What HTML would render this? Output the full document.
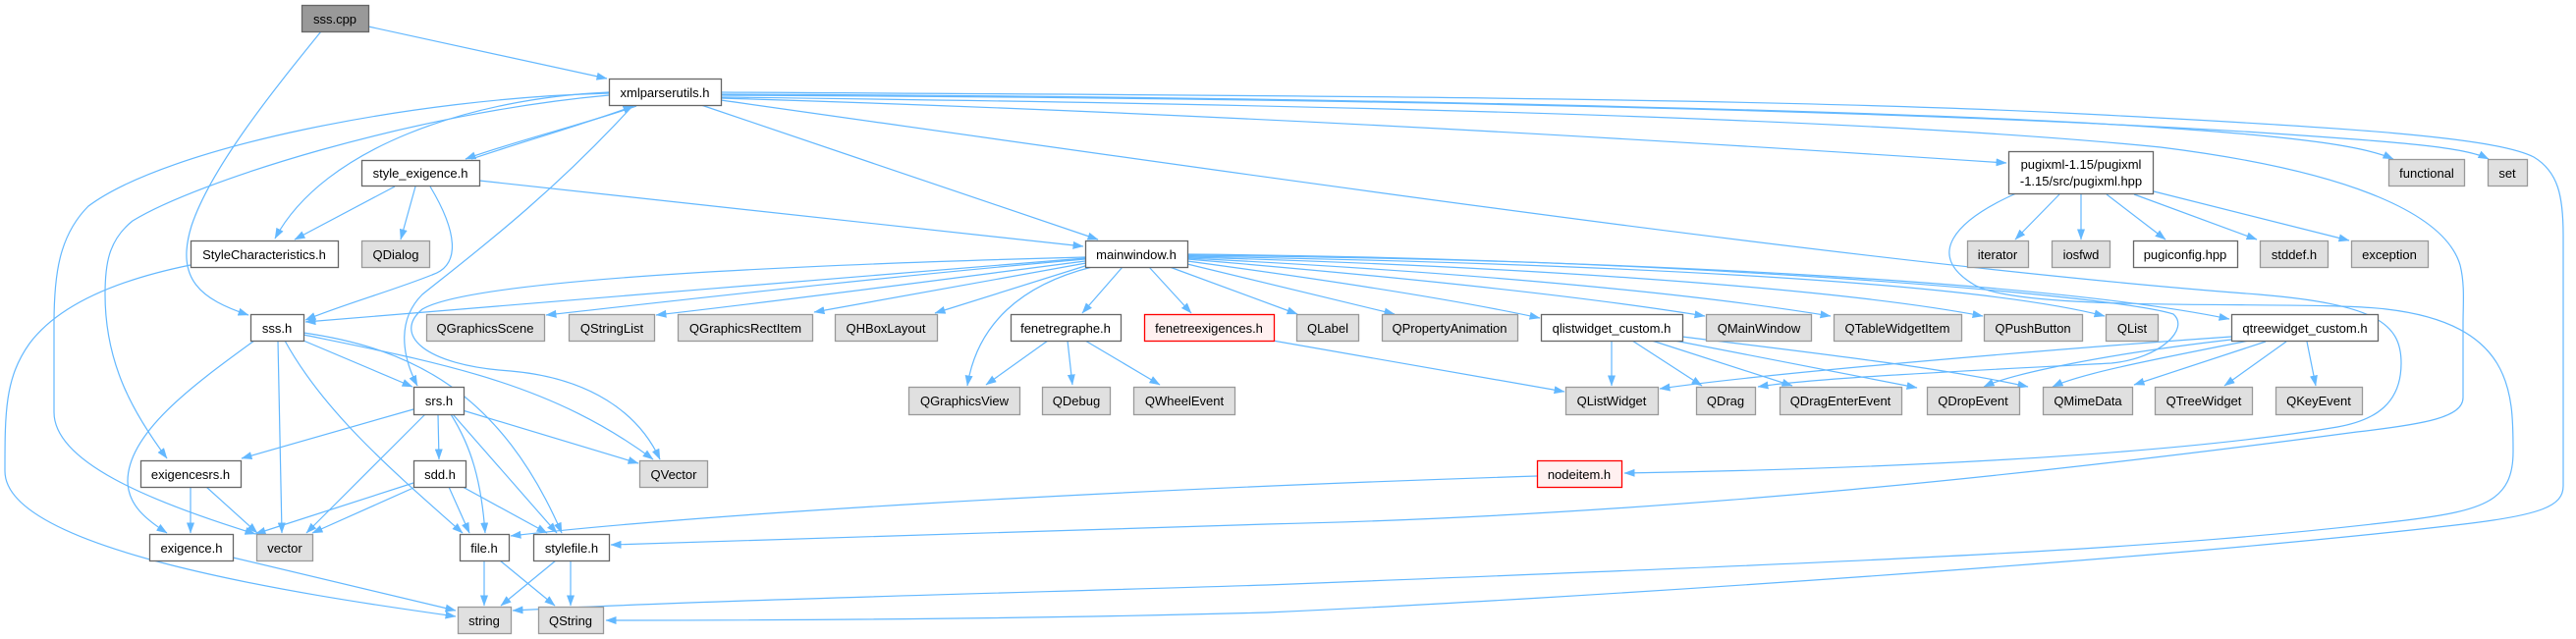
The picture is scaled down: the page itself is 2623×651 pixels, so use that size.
<!DOCTYPE html>
<html><head><meta charset="utf-8"><style>
html,body{margin:0;padding:0;background:#fff;}
svg{display:block;}
text{font-family:"Liberation Sans",Arial,sans-serif;font-size:13px;fill:#000;text-anchor:middle;}
.w{fill:#fff;stroke:#666;stroke-width:1.3;}
.g{fill:#e0e0e0;stroke:#999;stroke-width:1.3;}
.r{fill:#fff0f0;stroke:#f00;stroke-width:1.3;}
.root{fill:#999;stroke:#666;stroke-width:1.3;}
.e{fill:none;stroke:#63b8ff;stroke-width:1.2;marker-end:url(#a);}
</style></head><body>
<svg width="2623" height="651" viewBox="0 0 2623 651" xmlns="http://www.w3.org/2000/svg">
<defs><marker id="a" viewBox="0 0 11 8" markerWidth="11" markerHeight="8" refX="10.5" refY="4" orient="auto" markerUnits="userSpaceOnUse"><path d="M0,0L11,4L0,8z" fill="#63b8ff"/></marker></defs>
<g>
<path class="e" d="M375,27 L618,80"/>
<path class="e" d="M327,32 C280,90 215,170 195,230 C178,285 205,305 253,321"/>
<path class="e" d="M648,108 C600,125 520,145 474,162"/>
<path class="e" d="M480,162 C530,145 600,125 645,108"/>
<path class="e" d="M620,94 C480,100 330,150 280,243"/>
<path class="e" d="M620,95 C420,100 170,150 90,210 C60,240 55,280 55,330 L55,420 C55,470 150,510 260,544"/>
<path class="e" d="M620,97 C420,115 200,185 135,225 C110,245 107,270 107,300 C107,370 135,420 170,467"/>
<path class="e" d="M402,190 L300,244"/>
<path class="e" d="M423,190 L408,244"/>
<path class="e" d="M438,190 C465,235 470,270 440,280 C400,296 350,310 311,326"/>
<path class="e" d="M488,184 L1103,251"/>
<path class="e" d="M714,107 L1118,244"/>
<path class="e" d="M194,270 C120,285 60,310 30,350 C5,385 5,420 5,480 C5,560 300,605 464,628"/>
<path class="e" d="M309,347 L420,394"/>
<path class="e" d="M259,347 C200,390 130,440 130,490 C130,515 150,530 170,543"/>
<path class="e" d="M283,347 L287,543"/>
<path class="e" d="M290,347 C330,420 400,480 471,543"/>
<path class="e" d="M309,339 C420,355 510,400 572,543"/>
<path class="e" d="M309,341 C450,370 560,390 665,468"/>
<path class="e" d="M1105,262 C800,270 480,285 430,315 C400,340 430,372 520,378 C600,385 650,420 672,468"/>
<path class="e" d="M644,108 C560,200 480,260 430,300 C405,325 408,360 425,393"/>
<path class="e" d="M421,417 L246,467"/>
<path class="e" d="M433,422 L312,543"/>
<path class="e" d="M446,422 L447,468"/>
<path class="e" d="M459,422 C480,455 490,490 494,543"/>
<path class="e" d="M461,422 L567,543"/>
<path class="e" d="M471,418 L650,472"/>
<path class="e" d="M194,496 L194,543"/>
<path class="e" d="M210,496 L262,543"/>
<path class="e" d="M421,492 L260,544"/>
<path class="e" d="M421,497 L318,543"/>
<path class="e" d="M457,496 L478,543"/>
<path class="e" d="M471,496 L557,543"/>
<path class="e" d="M237,568 L464,622"/>
<path class="e" d="M493,571 L493,617"/>
<path class="e" d="M509,571 L565,617"/>
<path class="e" d="M566,571 L510,617"/>
<path class="e" d="M581,571 L581,617"/>
<path class="e" d="M1565,485 C1100,500 700,525 520,546"/>
<path class="e" d="M734,94 C1300,97 1800,100 2100,115 C2400,130 2540,140 2580,160 C2605,175 2610,200 2610,240 L2610,495 C2610,515 2590,525 2500,535 C2200,570 1600,610 1290,624 C1000,632 700,632 617,632"/>
<path class="e" d="M734,96 C1300,98 1950,112 2200,130 C2350,140 2410,150 2437,162"/>
<path class="e" d="M734,97 C1400,100 1950,113 2300,135 C2450,145 2510,150 2534,162"/>
<path class="e" d="M734,99 C1500,108 1950,125 2200,150 C2400,175 2490,220 2505,270 C2510,290 2508,310 2508,330 L2508,405 C2508,425 2470,432 2400,440 C2100,480 1700,525 1290,534 C1000,545 750,553 622,555"/>
<path class="e" d="M734,102 C1300,182 1900,270 2300,300 C2420,310 2445,330 2445,370 C2445,410 2420,428 2380,435 C2200,465 1900,478 1654,482"/>
<path class="e" d="M734,100 C1300,117 1800,150 2043,166"/>
<path class="e" d="M2053,197 C1990,225 1960,260 2010,290 C2060,320 2350,305 2430,315 C2559,330 2559,400 2559,460 C2559,510 2530,520 2450,530 C2200,560 1950,570 1290,596 C1000,605 700,612 522,622"/>
<path class="e" d="M2097,198 L2052,244"/>
<path class="e" d="M2119,198 L2119,244"/>
<path class="e" d="M2145,198 L2205,244"/>
<path class="e" d="M2173,198 L2298,244"/>
<path class="e" d="M2193,195 L2392,245"/>
<path class="e" d="M1105,263 C900,280 500,312 311,328"/>
<path class="e" d="M1105,264 C900,282 700,305 556,321"/>
<path class="e" d="M1105,266 C950,286 800,306 668,321"/>
<path class="e" d="M1106,268 L829,318"/>
<path class="e" d="M1108,270 L952,319"/>
<path class="e" d="M1112,272 C1040,290 995,330 985,393"/>
<path class="e" d="M1143,272 L1102,319"/>
<path class="e" d="M1170,272 L1213,319"/>
<path class="e" d="M1191,272 L1321,320"/>
<path class="e" d="M1209,269 L1420,320"/>
<path class="e" d="M1209,266 C1350,285 1480,305 1568,324"/>
<path class="e" d="M1209,264 C1400,280 1600,300 1736,322"/>
<path class="e" d="M1209,263 C1450,275 1700,295 1864,322"/>
<path class="e" d="M1209,262 C1500,270 1850,290 2019,322"/>
<path class="e" d="M1209,261 C1600,268 2000,285 2143,322"/>
<path class="e" d="M1209,260 C1700,265 2100,290 2270,325"/>
<path class="e" d="M1209,259 C1700,263 2150,300 2213,320 C2230,335 2200,365 2150,370 C2000,378 1850,385 1790,394"/>
<path class="e" d="M1067,347 L1004,392"/>
<path class="e" d="M1087,347 L1092,392"/>
<path class="e" d="M1105,347 L1181,392"/>
<path class="e" d="M1296,347 L1593,399"/>
<path class="e" d="M1641,347 L1641,393"/>
<path class="e" d="M1662,347 L1733,393"/>
<path class="e" d="M1682,347 L1825,393"/>
<path class="e" d="M1705,347 L1952,395"/>
<path class="e" d="M1713,343 C1850,360 1980,375 2065,394"/>
<path class="e" d="M2272,343 C2100,355 1800,380 1690,396"/>
<path class="e" d="M2272,346 C2150,360 2050,380 2020,394"/>
<path class="e" d="M2290,347 C2200,365 2120,380 2090,394"/>
<path class="e" d="M2307,348 L2173,392"/>
<path class="e" d="M2328,348 L2265,393"/>
<path class="e" d="M2349,348 L2358,393"/>
</g>
<g>
<rect class="root" x="307.5" y="5.5" width="68" height="27"/><text x="341" y="24">sss.cpp</text>
<rect class="w" x="620.5" y="80.5" width="114" height="27"/><text x="677" y="99">xmlparserutils.h</text>
<rect class="w" x="368.5" y="163.5" width="120" height="26"/><text x="428" y="181">style_exigence.h</text>
<rect class="g" x="2432.5" y="162.5" width="77" height="27"/><text x="2471" y="181">functional</text>
<rect class="g" x="2533.5" y="162.5" width="40" height="27"/><text x="2553" y="181">set</text>
<rect class="w" x="2045.5" y="154.5" width="147" height="43"/><text x="2119" y="172">pugixml-1.15/pugixml</text><text x="2119" y="189">-1.15/src/pugixml.hpp</text>
<rect class="w" x="194.5" y="245.5" width="150" height="27"/><text x="269" y="264">StyleCharacteristics.h</text>
<rect class="g" x="368.5" y="245.5" width="69" height="27"/><text x="403" y="264">QDialog</text>
<rect class="w" x="1105.5" y="245.5" width="104" height="27"/><text x="1157" y="264">mainwindow.h</text>
<rect class="g" x="2003.5" y="245.5" width="62" height="27"/><text x="2034" y="264">iterator</text>
<rect class="g" x="2089.5" y="245.5" width="59" height="27"/><text x="2119" y="264">iosfwd</text>
<rect class="w" x="2172.5" y="245.5" width="106" height="27"/><text x="2225" y="264">pugiconfig.hpp</text>
<rect class="g" x="2301.5" y="245.5" width="69" height="27"/><text x="2336" y="264">stddef.h</text>
<rect class="g" x="2394.5" y="245.5" width="78" height="27"/><text x="2433" y="264">exception</text>

<rect class="w" x="255.5" y="320.5" width="54" height="27"/><text x="282" y="339">sss.h</text>
<rect class="g" x="434.5" y="320.5" width="120" height="27"/><text x="494" y="339">QGraphicsScene</text>
<rect class="g" x="579.5" y="320.5" width="87" height="27"/><text x="623" y="339">QStringList</text>
<rect class="g" x="690.5" y="320.5" width="137" height="27"/><text x="759" y="339">QGraphicsRectItem</text>
<rect class="g" x="850.5" y="320.5" width="104" height="27"/><text x="902" y="339">QHBoxLayout</text>
<rect class="w" x="1029.5" y="320.5" width="112" height="27"/><text x="1085" y="339">fenetregraphe.h</text>
<rect class="r" x="1165.5" y="320.5" width="132" height="27"/><text x="1231" y="339">fenetreexigences.h</text>
<rect class="g" x="1320.5" y="320.5" width="63" height="27"/><text x="1352" y="339">QLabel</text>
<rect class="g" x="1407.5" y="320.5" width="138" height="27"/><text x="1476" y="339">QPropertyAnimation</text>
<rect class="w" x="1569.5" y="320.5" width="144" height="27"/><text x="1641" y="339">qlistwidget_custom.h</text>
<rect class="g" x="1737.5" y="320.5" width="107" height="27"/><text x="1791" y="339">QMainWindow</text>
<rect class="g" x="1867.5" y="320.5" width="130" height="27"/><text x="1932" y="339">QTableWidgetItem</text>
<rect class="g" x="2020.5" y="320.5" width="100" height="27"/><text x="2070" y="339">QPushButton</text>
<rect class="g" x="2144.5" y="320.5" width="53" height="27"/><text x="2171" y="339">QList</text>
<rect class="w" x="2272.5" y="320.5" width="149" height="27"/><text x="2347" y="339">qtreewidget_custom.h</text>

<rect class="w" x="421.5" y="394.5" width="51" height="28"/><text x="447" y="413">srs.h</text>
<rect class="g" x="925.5" y="394.5" width="113" height="28"/><text x="982" y="413">QGraphicsView</text>
<rect class="g" x="1061.5" y="394.5" width="69" height="28"/><text x="1096" y="413">QDebug</text>
<rect class="g" x="1154.5" y="394.5" width="103" height="28"/><text x="1206" y="413">QWheelEvent</text>
<rect class="g" x="1594.5" y="394.5" width="94" height="28"/><text x="1641" y="413">QListWidget</text>
<rect class="g" x="1727.5" y="394.5" width="60" height="28"/><text x="1757" y="413">QDrag</text>
<rect class="g" x="1812.5" y="394.5" width="124" height="28"/><text x="1874" y="413">QDragEnterEvent</text>
<rect class="g" x="1962.5" y="394.5" width="94" height="28"/><text x="2009" y="413">QDropEvent</text>
<rect class="g" x="2080.5" y="394.5" width="91" height="28"/><text x="2126" y="413">QMimeData</text>
<rect class="g" x="2194.5" y="394.5" width="99" height="28"/><text x="2244" y="413">QTreeWidget</text>
<rect class="g" x="2317.5" y="394.5" width="88" height="28"/><text x="2361" y="413">QKeyEvent</text>

<rect class="w" x="143.5" y="469.5" width="102" height="27"/><text x="194" y="488">exigencesrs.h</text>
<rect class="w" x="421.5" y="469.5" width="53" height="27"/><text x="448" y="488">sdd.h</text>
<rect class="g" x="651.5" y="469.5" width="69" height="27"/><text x="686" y="488">QVector</text>
<rect class="r" x="1565.5" y="469.5" width="86" height="27"/><text x="1608" y="488">nodeitem.h</text>

<rect class="w" x="152.5" y="544.5" width="85" height="27"/><text x="195" y="563">exigence.h</text>
<rect class="g" x="261.5" y="544.5" width="57" height="27"/><text x="290" y="563">vector</text>
<rect class="w" x="468.5" y="544.5" width="50" height="27"/><text x="493" y="563">file.h</text>
<rect class="w" x="543.5" y="544.5" width="77" height="27"/><text x="582" y="563">stylefile.h</text>

<rect class="g" x="466.5" y="618.5" width="54" height="27"/><text x="493" y="637">string</text>
<rect class="g" x="548.5" y="618.5" width="66" height="27"/><text x="581" y="637">QString</text>
</g>
</svg>
</body></html>
